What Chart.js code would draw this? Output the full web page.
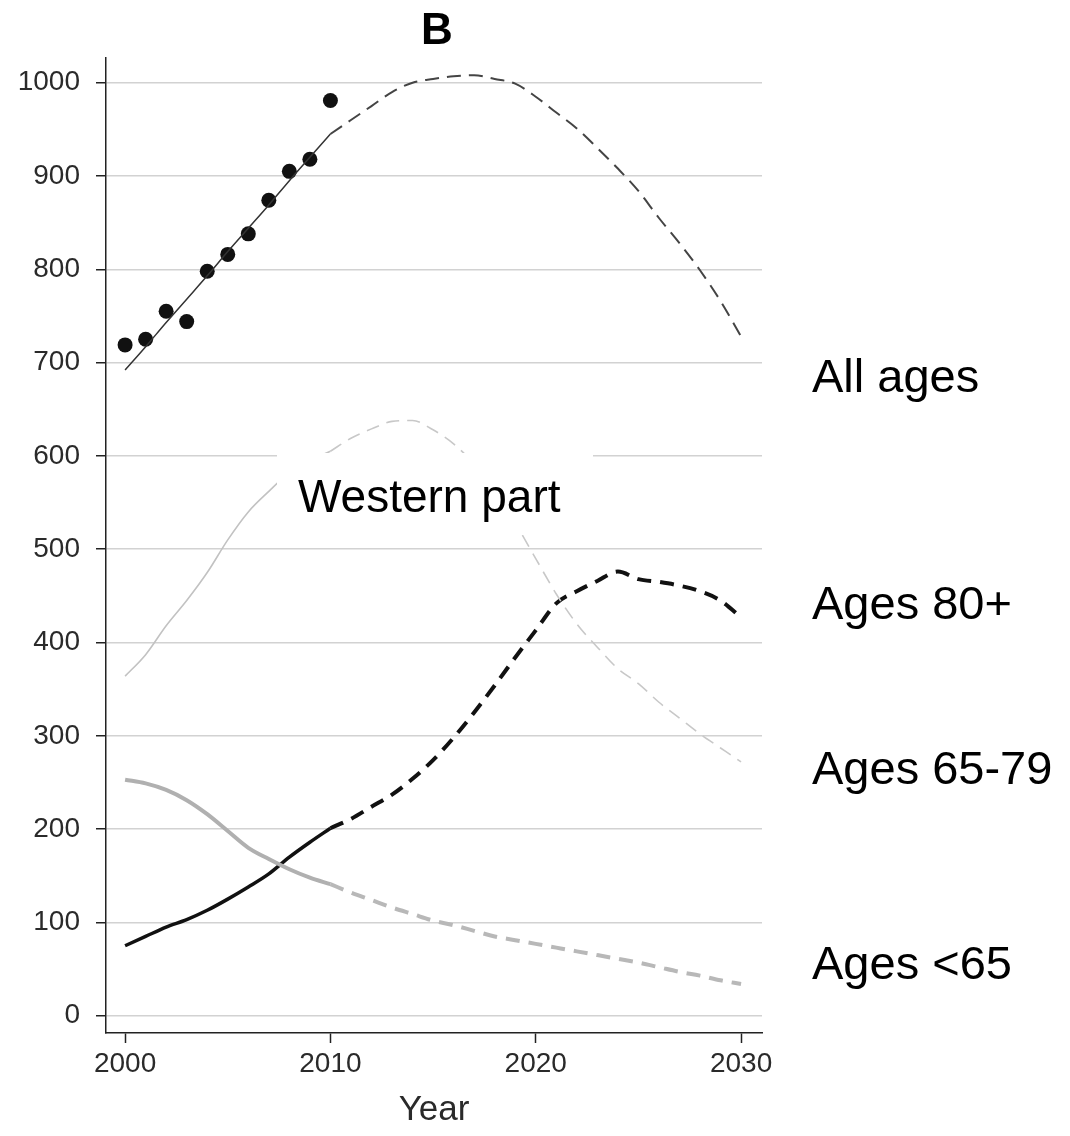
<!DOCTYPE html>
<html>
<head>
<meta charset="utf-8">
<script src="https://cdn.jsdelivr.net/npm/chart.js@4.4.1/dist/chart.umd.min.js"></script>
<style>
  html, body { margin: 0; padding: 0; background: #ffffff; }
  #wrap { width: 1070px; height: 1136px; }
</style>
</head>
<body>
<div id="wrap"><canvas id="c" width="1070" height="1136"></canvas></div>
<script>
// ---- data ----
const yearsHist = [2000, 2001, 2002, 2003, 2004, 2005, 2006, 2007, 2008, 2009, 2010];
const yearsProj = [2010, 2011, 2012, 2013, 2014, 2015, 2016, 2017, 2018, 2019, 2020,
                   2021, 2022, 2023, 2024, 2025, 2026, 2027, 2028, 2029, 2030];

const allAgesObserved = [719, 725, 755, 744, 798, 816, 838, 874, 905, 918, 981];
const allAgesFit      = [692, 717, 743, 768, 793, 819, 844, 869, 895, 920, 945];
const allAgesProj     = [945, 960, 975, 990, 1000, 1004, 1007, 1008, 1004, 999, 985,
                         968, 951, 930, 908, 884, 855, 828, 799, 766, 728];

const ages6579Hist = [364, 387, 418, 445, 475, 510, 540, 562, 582, 595, 605];
const ages6579Proj = [605, 619, 629, 637, 638, 628, 613, 591, 561, 528, 490,
                      452, 420, 395, 372, 356, 336, 319, 302, 287, 272];

const ages80Hist = [75, 85, 95, 103, 113, 125, 138, 152, 170, 186, 201];
const ages80Proj = [201, 211, 224, 237, 254, 274, 298, 325, 354, 384, 413,
                    442, 455, 466, 476, 468, 465, 461, 455, 445, 427];

const agesU65Hist = [253, 249, 242, 231, 216, 198, 180, 168, 157, 148, 141];
const agesU65Proj = [141, 132, 124, 116, 109, 102, 97, 91, 85, 81, 77,
                     73, 69, 65, 61, 57, 52, 47, 43, 38, 34];

const xTicks = [2000, 2010, 2020, 2030];
const yTicks = [0, 100, 200, 300, 400, 500, 600, 700, 800, 900, 1000];

const panelTitle = 'B';
const xAxisTitle = 'Year';
const regionLabel = 'Western part';
const seriesLabels = ['All ages', 'Ages 80+', 'Ages 65-79', 'Ages <65'];

// ---- helpers ----
const pts = (xs, ys) => xs.map((x, i) => ({ x: x, y: ys[i] }));
const FONT = "'Liberation Sans', Arial, Helvetica, sans-serif";

function lineDs(label, xs, ys, color, width, dash) {
  return {
    label: label,
    data: pts(xs, ys),
    borderColor: color,
    backgroundColor: color,
    borderWidth: width,
    borderDash: dash || [],
    pointRadius: 0,
    cubicInterpolationMode: 'monotone',
    fill: false
  };
}

const datasets = [
  lineDs('Ages 65-79', yearsHist, ages6579Hist, '#c2c2c2', 1.6),
  lineDs('Ages 65-79 projection', yearsProj, ages6579Proj, '#c8c8c8', 1.6, [13, 8]),
  lineDs('Ages <65', yearsHist, agesU65Hist, '#b0b0b0', 4),
  lineDs('Ages <65 projection', yearsProj, agesU65Proj, '#b8b8b8', 4, [14, 9]),
  lineDs('Ages 80+', yearsHist, ages80Hist, '#111111', 3.5),
  lineDs('Ages 80+ projection', yearsProj, ages80Proj, '#111111', 4, [14, 9]),
  lineDs('All ages fit', yearsHist, allAgesFit, '#333333', 1.5),
  lineDs('All ages projection', yearsProj, allAgesProj, '#444444', 2, [14, 8]),
  {
    label: 'All ages observed',
    type: 'scatter',
    data: pts(yearsHist, allAgesObserved),
    showLine: false,
    pointRadius: 7.5,
    pointBackgroundColor: '#111111',
    pointBorderColor: '#111111',
    pointBorderWidth: 0
  }
];

const annotations = {
  id: 'annotations',
  afterDatasetsDraw(chart) {
    const ctx = chart.ctx;
    ctx.save();
    // white box behind the region label
    ctx.fillStyle = '#ffffff';
    ctx.fillRect(277, 453, 316, 82);
    ctx.fillStyle = '#000000';
    ctx.font = '46px ' + FONT;
    ctx.textAlign = 'left';
    ctx.textBaseline = 'alphabetic';
    ctx.fillText(regionLabel, 298, 512);
    ctx.restore();
  },
  afterDraw(chart) {
    const ctx = chart.ctx;
    ctx.save();
    ctx.fillStyle = '#000000';
    ctx.textBaseline = 'alphabetic';
    ctx.font = 'bold 44px ' + FONT;
    ctx.textAlign = 'center';
    ctx.fillText(panelTitle, 437, 44);
    ctx.font = '47px ' + FONT;
    ctx.textAlign = 'left';
    const baselines = [392, 619, 784, 979];
    seriesLabels.forEach((t, i) => ctx.fillText(t, 812, baselines[i]));
    ctx.restore();
  }
};

new Chart(document.getElementById('c'), {
  type: 'line',
  data: { datasets: datasets },
  options: {
    responsive: false,
    devicePixelRatio: 1,
    animation: false,
    layout: { padding: { top: 58, right: 308, left: 0, bottom: 0 } },
    plugins: {
      legend: { display: false },
      title: { display: false },
      tooltip: { enabled: false }
    },
    scales: {
      x: {
        type: 'linear',
        min: 1999.07,
        max: 2031.02,
        afterBuildTicks: (s) => { s.ticks = xTicks.map(v => ({ value: v })); },
        afterFit: (s) => { s.height = 103; },
        grid: { drawOnChartArea: false, drawTicks: true, tickLength: 10, tickColor: '#222222', tickWidth: 1.5 },
        border: { display: true, color: '#222222', width: 1.5 },
        ticks: {
          color: '#2a2a2a',
          font: { family: FONT, size: 28 },
          padding: 4,
          maxRotation: 0,
          callback: (v) => String(v)
        },
        title: {
          display: true,
          text: xAxisTitle,
          color: '#2a2a2a',
          font: { family: FONT, size: 35 },
          padding: { top: 0, bottom: 5 }
        }
      },
      y: {
        type: 'linear',
        min: -18.5,
        max: 1026.5,
        afterBuildTicks: (s) => { s.ticks = yTicks.map(v => ({ value: v })); },
        afterFit: (s) => { s.width = 106; },
        grid: { color: '#d2d2d2', lineWidth: 1.5, drawTicks: true, tickLength: 10, tickColor: '#222222', tickWidth: 1.5 },
        border: { display: true, color: '#222222', width: 1.5 },
        ticks: {
          color: '#2a2a2a',
          font: { family: FONT, size: 28 },
          padding: 16,
          callback: (v) => String(v)
        }
      }
    }
  },
  plugins: [annotations]
});
</script>
</body>
</html>
